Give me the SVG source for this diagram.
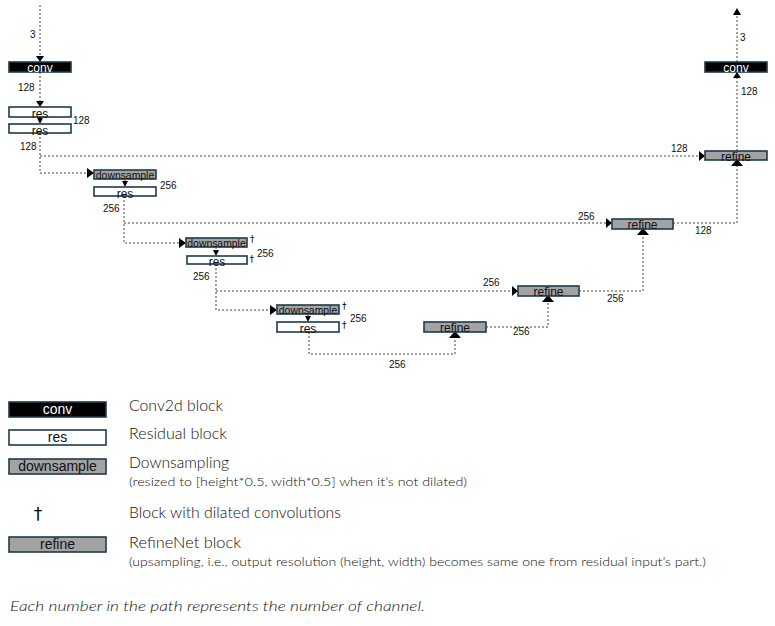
<svg xmlns="http://www.w3.org/2000/svg" width="775" height="626" viewBox="0 0 775 626">
<style>
.bx{stroke:#1d3b4c;stroke-width:1.6}
.conv{fill:#000}
.res{fill:#fff}
.gray{fill:#a3a3a3}
.nt{font-family:"Liberation Sans",Arial,sans-serif;font-size:12px;text-anchor:middle;fill:#111}
.ds{font-size:10.4px}
.nw{fill:#fff}
.lb{font-family:"Liberation Sans",Arial,sans-serif;font-size:10px;fill:#111}
.ln{fill:none;stroke:#444;stroke-width:1;stroke-dasharray:2,2}
.lg{font-family:Lato,"Open Sans","Liberation Sans",sans-serif;font-weight:300;font-size:15px;fill:#111}
.ls{font-family:Lato,"Open Sans","Liberation Sans",sans-serif;font-weight:300;font-size:12px;fill:#111}
.lt{font-family:"Liberation Sans",Arial,sans-serif;font-size:14px;text-anchor:middle;fill:#111}
.dg{font-family:"DejaVu Sans",sans-serif;font-size:9px;fill:#000}
.ar{fill:#000}
</style>

<g id="connectors">
  <path class="ln" d="M40,5 V58"/>
  <path class="ar" d="M36,56 L44,56 L40,62 Z"/>
  <text class="lb" x="30" y="38">3</text>
  <path class="ln" d="M40,72 V103"/>
  <path class="ar" d="M36,101 L44,101 L40,107 Z"/>
  <text class="lb" x="18" y="91">128</text>
  <path class="ln" d="M40,117 V121"/>
  <path class="ar" d="M37,118 L43,118 L40,124 Z"/>
  <text class="lb" x="73" y="124">128</text>
  <path class="ln" d="M40,133 V173 H88"/>
  <path class="ar" d="M87,168 L94,173 L87,178 Z"/>
  <text class="lb" x="20" y="150">128</text>
  <path class="ln" d="M40,156 H699"/>
  <path class="ar" d="M699,151 L705,156 L699,161 Z"/>
  <text class="lb" x="671" y="152">128</text>

  <path class="ln" d="M125,179 V184"/>
  <path class="ar" d="M122,181 L128,181 L125,187 Z"/>
  <text class="lb" x="160" y="189">256</text>
  <path class="ln" d="M124,196 V243 H180"/>
  <path class="ar" d="M179,238 L186,243 L179,248 Z"/>
  <text class="lb" x="103" y="212">256</text>
  <path class="ln" d="M124,223 H606"/>
  <path class="ar" d="M606,218 L612,223 L606,228 Z"/>
  <text class="lb" x="578" y="220">256</text>

  <path class="ln" d="M216,247 V253"/>
  <path class="ar" d="M213,250 L219,250 L216,256 Z"/>
  <text class="lb" x="257" y="257">256</text>
  <path class="ln" d="M216,264 V310 H271"/>
  <path class="ar" d="M270,305 L277,310 L270,315 Z"/>
  <text class="lb" x="193" y="280">256</text>
  <path class="ln" d="M216,291 H512"/>
  <path class="ar" d="M512,286 L518,291 L512,296 Z"/>
  <text class="lb" x="483" y="286">256</text>

  <path class="ln" d="M308,314 V319"/>
  <path class="ar" d="M305,316 L311,316 L308,322 Z"/>
  <text class="lb" x="350" y="322">256</text>
  <path class="ln" d="M309,332 V354 H455 V338"/>
  <path class="ar" d="M449,338 L461,338 L455,331 Z"/>
  <text class="lb" x="389" y="368">256</text>

  <path class="ln" d="M486,327 H548 V302"/>
  <path class="ar" d="M542,302 L554,302 L548,295 Z"/>
  <text class="lb" x="513" y="335">256</text>
  <path class="ln" d="M579,291 H643 V235"/>
  <path class="ar" d="M637,235 L649,235 L643,228 Z"/>
  <text class="lb" x="607" y="302">256</text>
  <path class="ln" d="M673,223 H737 V166"/>
  <path class="ar" d="M731,166 L743,166 L737,159 Z"/>
  <text class="lb" x="695" y="234">128</text>
  <path class="ln" d="M737,151 V77"/>
  <path class="ar" d="M733,78 L741,78 L737,72 Z"/>
  <text class="lb" x="741" y="95">128</text>
  <path class="ln" d="M737,62 V14"/>
  <path class="ar" d="M733,15 L741,15 L737,8 Z"/>
  <text class="lb" x="740" y="41">3</text>
</g>

<g id="conv_in"><rect class="bx conv" x="9" y="62" width="62" height="10"/><text class="nt nw" x="40" y="72">conv</text></g>
<g id="res1"><rect class="bx res" x="9" y="107" width="62" height="10"/><text class="nt" x="40" y="118">res</text></g>
<g id="res2"><rect class="bx res" x="9" y="124" width="62" height="9"/><text class="nt" x="40" y="135">res</text></g>

<g id="ds1"><rect class="bx gray" x="94" y="170" width="62" height="9"/><text class="nt ds" x="125" y="178.5">downsample</text></g>
<g id="res3"><rect class="bx res" x="94" y="187" width="62" height="9"/><text class="nt" x="125" y="198">res</text></g>

<g id="ds2"><rect class="bx gray" x="186" y="238" width="61" height="9"/><text class="nt ds" x="216.5" y="246.5">downsample</text><text class="dg" x="250" y="242">†</text></g>
<g id="res4"><rect class="bx res" x="187" y="256" width="60" height="8"/><text class="nt" x="217" y="266">res</text><text class="dg" x="249.5" y="262">†</text></g>

<g id="ds3"><rect class="bx gray" x="277" y="305" width="62" height="9"/><text class="nt ds" x="308" y="313.5">downsample</text><text class="dg" x="342" y="309">†</text></g>
<g id="res5"><rect class="bx res" x="277" y="322" width="62" height="10"/><text class="nt" x="308" y="333">res</text><text class="dg" x="342" y="328">†</text></g>

<g id="refine4"><rect class="bx gray" x="424" y="322" width="62" height="10"/><text class="nt" x="455" y="332">refine</text></g>
<g id="refine3"><rect class="bx gray" x="518" y="286" width="61" height="10"/><text class="nt" x="548.5" y="296">refine</text></g>
<g id="refine2"><rect class="bx gray" x="612" y="219" width="61" height="10"/><text class="nt" x="642.5" y="229">refine</text></g>
<g id="refine1"><rect class="bx gray" x="705" y="151" width="62" height="9"/><text class="nt" x="736" y="161">refine</text></g>
<g id="conv_out"><rect class="bx conv" x="705" y="62" width="62" height="10"/><text class="nt nw" x="736" y="72">conv</text></g>

<g id="legend">
  <rect class="bx conv" x="9" y="402" width="97" height="15"/>
  <text class="lt" x="57.5" y="414" style="fill:#fff">conv</text>
  <text class="lg" x="129" y="411" textLength="94" lengthAdjust="spacingAndGlyphs">Conv2d block</text>

  <rect class="bx res" x="9" y="430" width="97" height="15"/>
  <text class="lt" x="57.5" y="442">res</text>
  <text class="lg" x="129" y="439" textLength="98" lengthAdjust="spacingAndGlyphs">Residual block</text>

  <rect class="bx gray" x="9" y="459" width="97" height="15"/>
  <text class="lt" x="57.5" y="471">downsample</text>
  <text class="lg" x="129" y="468" textLength="100" lengthAdjust="spacingAndGlyphs">Downsampling</text>
  <text class="ls" x="129" y="486" textLength="338" lengthAdjust="spacingAndGlyphs">(resized to [height*0.5, width*0.5] when it’s not dilated)</text>

  <text class="dg" x="38" y="520" text-anchor="middle" style="font-size:17px">†</text>
  <text class="lg" x="129" y="518" textLength="212" lengthAdjust="spacingAndGlyphs">Block with dilated convolutions</text>

  <rect class="bx gray" x="9" y="537" width="97" height="15"/>
  <text class="lt" x="57.5" y="549">refine</text>
  <text class="lg" x="129" y="548" textLength="112" lengthAdjust="spacingAndGlyphs">RefineNet block</text>
  <text class="ls" x="129" y="566" textLength="577" lengthAdjust="spacingAndGlyphs">(upsampling, i.e., output resolution (height, width) becomes same one from residual input’s part.)</text>

  <text class="lg" x="10" y="611" style="font-style:italic;font-size:14px" textLength="415" lengthAdjust="spacingAndGlyphs">Each number in the path represents the number of channel.</text>
</g>
</svg>
